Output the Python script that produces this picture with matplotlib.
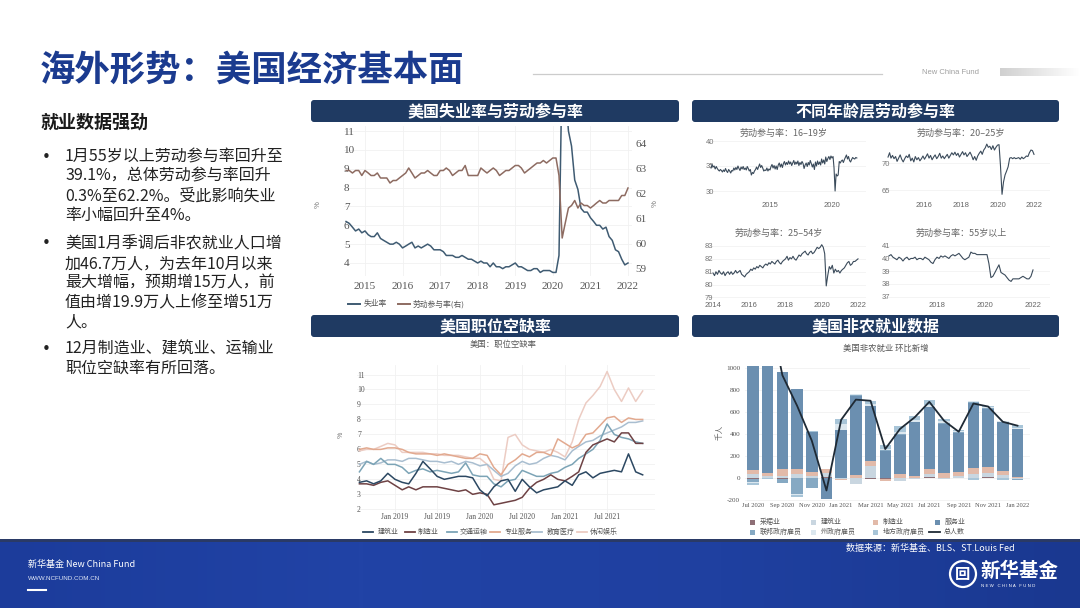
import numpy as np
import pandas as pd
import matplotlib
matplotlib.use('Agg')
import matplotlib.pyplot as plt
import matplotlib.dates as mdates
from matplotlib.patches import FancyBboxPatch, Rectangle, Circle
from matplotlib.colors import LinearSegmentedColormap

plt.rcParams['font.family'] = ['Noto Sans CJK SC', 'DejaVu Sans']
plt.rcParams['axes.unicode_minus'] = False

# ===================== DATA =====================
# Chart 1: unemployment rate (left) and labour-force participation (right), monthly from 2014-07
ur_start = '2014-07-01'
unemployment_rate = [6.2, 6.1, 5.9, 5.7, 5.8, 5.6,
    5.7, 5.5, 5.4, 5.4, 5.6, 5.3, 5.2, 5.1, 5.0, 5.0, 5.1, 5.0,
    4.8, 4.9, 5.0, 5.1, 4.8, 4.9, 4.8, 4.9, 5.0, 4.9, 4.7, 4.7,
    4.7, 4.6, 4.4, 4.4, 4.4, 4.3, 4.3, 4.4, 4.3, 4.2, 4.2, 4.1,
    4.0, 4.1, 4.0, 4.0, 3.8, 4.0, 3.8, 3.8, 3.7, 3.8, 3.8, 3.9,
    4.0, 3.8, 3.8, 3.7, 3.6, 3.6, 3.7, 3.7, 3.5, 3.6, 3.6, 3.6,
    3.5, 3.5, 4.4, 14.7, 13.2, 11.0, 10.2, 8.4, 7.9, 6.9, 6.7, 6.7,
    6.4, 6.2, 6.0, 6.0, 5.8, 5.9, 5.4, 5.2, 4.7, 4.6, 4.2, 3.9,
    4.0]
participation_rate = [62.9, 62.9, 62.8, 62.9, 62.9, 62.7,
    62.9, 62.8, 62.7, 62.7, 62.8, 62.6, 62.6, 62.6, 62.4, 62.5, 62.5, 62.6,
    62.7, 62.8, 63.0, 62.8, 62.6, 62.7, 62.8, 62.8, 62.9, 62.8, 62.7, 62.7,
    62.9, 62.9, 63.0, 62.9, 62.7, 62.8, 62.9, 62.9, 63.1, 62.7, 62.7, 62.7,
    62.7, 63.0, 62.9, 62.8, 62.9, 63.0, 62.9, 62.7, 62.8, 62.9, 62.9, 63.0,
    63.1, 63.1, 63.0, 62.8, 62.9, 63.0, 63.1, 63.2, 63.2, 63.3, 63.2, 63.3,
    63.4, 63.4, 62.7, 60.2, 60.8, 61.4, 61.5, 61.7, 61.4, 61.6, 61.5, 61.5,
    61.4, 61.5, 61.6, 61.7, 61.6, 61.6, 61.7, 61.7, 61.7, 61.7, 61.9, 61.9,
    62.2]
ur_labels = ['失业率', '劳动参与率(右)']

# Chart 2: participation by age group (monthly)
age_16_19_start = '2010-04-01'
age_16_19 = [34.6, 35.3, 34.8, 35.0, 34.4, 34.9, 34.5, 34.2, 34.0,
    34.3, 34.1, 33.8, 34.2, 33.9, 34.5, 34.0, 33.7, 34.3, 34.0, 33.6, 34.1,
    34.0, 34.6, 34.2, 34.7, 34.3, 35.0, 34.5, 34.1, 34.8, 34.4, 34.9, 34.3,
    34.6, 34.2, 34.9, 34.5, 34.0, 34.3, 33.2, 33.7, 33.5, 34.0, 34.3, 34.8,
    34.3, 34.9, 35.4, 34.7, 35.1, 34.6, 34.0, 34.2, 34.1, 34.6, 34.0, 34.4,
    34.2, 34.9, 35.3, 34.6, 35.1, 34.4, 35.0, 34.3, 35.2, 35.6, 34.8, 35.4,
    34.7, 35.5, 35.9, 35.2, 35.7, 35.3, 36.0, 35.4, 35.8, 35.1, 35.6, 36.1,
    35.3, 35.8, 35.4, 36.0, 35.1, 35.7, 35.3, 35.9, 35.5, 34.5, 35.2, 35.6,
    34.9, 35.7, 35.2, 36.1, 35.5, 34.8, 35.4, 34.3, 35.8, 35.0, 36.0, 35.3,
    35.8, 35.2, 36.4, 35.6, 36.2, 35.4, 36.8, 35.9, 36.5, 36.9, 36.3, 37.0,
    36.6, 36.9, 34.6, 30.0, 33.4, 33.0, 33.2, 35.9, 35.6, 36.0, 36.2, 35.7,
    36.3, 36.8, 37.2, 36.4, 36.9, 36.1, 35.8, 36.3, 36.7, 36.5, 36.4, 36.7,
    36.6]
age_20_24_start = '2014-01-01'
age_20_24 = [71.1, 71.9, 70.9, 71.4, 70.8, 71.2, 70.3, 70.9, 71.5, 70.7, 70.2, 70.8,
    71.3, 71.0, 71.6, 70.4, 70.9, 70.2, 71.2, 70.6, 71.0, 70.4, 70.8, 71.3,
    70.7, 71.2, 71.7, 70.9, 71.4, 70.6, 71.1, 71.5, 70.8, 71.2, 71.8, 70.9,
    71.3, 70.8, 71.2, 71.6, 70.9, 71.4, 71.9, 71.5, 72.0, 71.4, 71.8, 71.1,
    71.6, 72.1, 71.5, 71.9, 71.2, 71.6, 72.0, 71.4, 70.6, 71.2, 70.5, 71.3,
    71.8, 72.2, 71.6, 72.4, 72.8, 73.5, 72.9, 73.1, 72.5, 73.2, 72.4, 72.9,
    73.3, 73.4, 69.5, 64.2, 66.5, 67.8, 68.5, 69.3, 70.9, 71.0, 70.8, 71.0,
    70.8, 70.9, 71.0, 70.7, 71.1, 70.8, 71.0, 71.3, 71.2, 71.9, 72.4, 72.3,
    71.6]
age_25_54_start = '2014-01-01'
age_25_54 = [80.9, 80.7, 81.0, 80.8, 81.1, 80.9, 80.8, 81.0, 80.7, 80.9, 81.0, 80.8,
    81.0, 80.8, 80.9, 81.1, 80.9, 81.0, 81.1, 80.8, 80.7, 80.6, 80.8, 80.9,
    81.0, 81.2, 81.1, 81.3, 81.2, 81.4, 81.3, 81.5, 81.4, 81.3, 81.5, 81.6,
    81.5, 81.7, 81.6, 81.8, 81.7, 81.6, 81.8, 81.9, 81.7, 81.6, 81.8, 81.9,
    82.0, 82.2, 81.9, 82.1, 82.0, 82.2, 82.0, 81.9, 82.1, 82.3, 82.2, 82.4,
    82.5, 82.6, 82.4, 82.3, 82.5, 82.6, 82.4, 82.5, 82.7, 82.9, 82.8, 82.9,
    83.1, 82.9, 82.4, 79.9, 80.7, 81.4, 81.2, 81.5, 80.9, 81.2, 81.0, 81.1,
    80.9, 81.1, 81.2, 81.3, 81.5, 81.7, 81.8, 81.5, 81.6, 81.8, 81.8, 81.9,
    82.0]
age_55_start = '2016-01-01'
age_55_plus = [40.2, 40.3, 40.1, 40.0, 39.9, 40.1, 40.0, 39.8, 40.0, 40.1, 39.9, 40.0,
    40.0, 40.1, 39.9, 40.0, 40.0, 39.9, 40.1, 40.0, 39.9, 39.7, 39.6, 39.9,
    40.1, 40.0, 40.2, 40.1, 40.2, 40.1, 40.0, 40.2, 40.3, 40.2, 40.3, 40.4,
    40.2, 40.0, 39.9, 40.0, 40.1, 40.5, 40.4, 40.4, 40.3, 40.3, 40.3, 40.3,
    40.3, 40.3, 39.6, 38.5, 38.6, 38.9, 39.2, 39.5, 38.9, 38.8, 38.7, 38.5,
    38.3, 38.2, 38.4, 38.4, 38.4, 38.4, 38.5, 38.6, 38.5, 38.4, 38.4, 38.6,
    39.1]
age_titles = ['劳动参与率：16–19岁', '劳动参与率：20–25岁', '劳动参与率：25–54岁', '劳动参与率：55岁以上']

# Chart 3: job openings rate by industry, monthly from 2018-08
vac_start = '2018-08-01'
vac_construction = [3.8, 3.9, 3.7, 3.9, 4.4, 4.0, 3.8, 3.7, 4.4, 5.2, 4.7, 4.2, 4.0, 4.1, 4.2, 4.2,
    4.1, 3.3, 2.9, 3.5, 3.9, 4.0, 3.2, 4.0, 3.5, 3.1, 3.3, 3.4, 3.5, 3.9, 3.6, 4.3,
    4.5, 4.1, 4.4, 4.5, 4.6, 4.5, 5.7, 4.5, 4.3]
vac_manufacturing = [3.7, 3.7, 3.6, 3.8, 3.9, 3.6, 3.3, 3.5, 3.3, 3.5, 3.5, 3.5, 3.4, 3.3, 3.2, 3.3,
    3.0, 3.1, 3.0, 2.3, 2.4, 2.5, 2.6, 2.8, 3.4, 3.8, 4.0, 4.3, 4.0, 3.9, 4.2, 4.5,
    5.8, 6.3, 6.5, 6.7, 6.5, 7.1, 7.1, 6.4, 6.4]
vac_transport = [4.5, 5.2, 5.0, 5.4, 5.0, 5.0, 4.8, 4.4, 4.6, 4.7, 4.5, 4.6, 4.5, 4.4, 4.5, 5.1,
    4.3, 4.2, 4.2, 3.7, 3.5, 3.9, 4.0, 4.6, 4.4, 4.2, 4.2, 4.4, 4.5, 4.8, 5.0, 5.4,
    5.7, 6.0, 6.6, 7.7, 7.0, 6.8, 6.7, 6.5, 6.4]
vac_professional = [6.0, 6.1, 6.0, 6.0, 6.1, 6.1, 6.0, 5.8, 5.7, 5.7, 5.7, 5.6, 5.7, 5.6, 5.5, 5.4,
    5.4, 5.7, 5.6, 4.8, 4.3, 5.0, 5.3, 5.7, 5.5, 5.8, 5.8, 5.6, 6.7, 6.4, 6.1, 6.3,
    7.0, 7.1, 7.6, 8.1, 8.2, 7.8, 8.1, 8.0, 8.0]
vac_eduhealth = [5.0, 5.2, 5.0, 5.1, 5.3, 5.3, 5.2, 5.4, 5.4, 5.3, 5.2, 5.2, 5.1, 5.2, 5.0, 5.2,
    5.1, 4.9, 5.0, 4.6, 4.2, 4.4, 4.9, 5.2, 5.0, 5.1, 5.4, 5.6, 5.5, 5.3, 5.9, 6.2,
    6.5, 6.6, 6.9, 7.1, 7.3, 7.5, 7.8, 7.8, 7.9]
vac_leisure = [5.9, 6.0, 6.0, 6.2, 6.4, 6.3, 5.8, 5.8, 5.8, 5.8, 5.7, 5.7, 5.6, 5.6, 5.6, 5.5,
    5.4, 5.4, 5.0, 4.0, 3.9, 6.8, 7.0, 6.3, 6.0, 5.9, 5.8, 6.0, 5.8, 5.5, 6.5, 8.0,
    9.1, 9.6, 10.2, 11.2, 10.0, 9.2, 10.1, 9.2, 9.9]
vac_names = ['建筑业', '制造业', '交通运输', '专业服务', '教育医疗', '休闲娱乐']
vac_ticks = ['2019-01-01', '2019-07-01', '2020-01-01', '2020-07-01', '2021-01-01', '2021-07-01']
vac_ticklabels = ['Jan 2019', 'Jul 2019', 'Jan 2020', 'Jul 2020', 'Jan 2021', 'Jul 2021']

# Chart 4: nonfarm payroll change by sector (thousands)
nf_months = ['Jul 2020', 'Aug 2020', 'Sep 2020', 'Oct 2020', 'Nov 2020', 'Dec 2020', 'Jan 2021',
             'Feb 2021', 'Mar 2021', 'Apr 2021', 'May 2021', 'Jun 2021', 'Jul 2021', 'Aug 2021',
             'Sep 2021', 'Oct 2021', 'Nov 2021', 'Dec 2021', 'Jan 2022']
nf_mining = [-7, 0, -3, -1, 4, 10, 2, 3, -2, -2, 5, 2, 8, 3, 3, 2, 10, 2, 1]
nf_construction = [40, 20, 25, 40, 20, 40, -8, -55, 110, -5, -20, -5, 30, -3, 20, 40, 40, 30, -10]
nf_manufacturing = [35, 30, 60, 40, 35, 30, -10, 25, 50, -20, 30, 20, 50, 45, 35, 55, 55, 35, 15]
nf_services = [1250, 1100, 875, 725, 356, -190, 430, 715, 490, 250, 358, 483, 552, 445, 352, 587, 520, 438, 429]
nf_federal = [-30, 250, -35, -140, -85, 5, 5, 5, -5, 5, 5, 5, 5, 5, 5, 5, 5, 5, -5]
nf_state = [-5, 0, -5, -10, 5, 0, 50, 10, 20, 10, 20, 15, 20, 15, 8, 5, 10, 10, 10]
nf_local = [-20, -10, 0, -15, 5, 0, 50, 5, 30, 35, 50, 40, 40, 22, 12, -15, 15, -15, 25]
nf_total = [1726, 1583, 930, 655, 340, -110, 528, 710, 700, 264, 445, 550, 690, 520, 420, 675, 648, 510, 475]
nf_names = ['采掘业', '建筑业', '制造业', '服务业', '联邦政府雇员', '州政府雇员', '地方政府雇员', '总人数']

# Slide text
title_text = '海外形势：美国经济基本面'
side_heading = '就业数据强劲'
bullets = [
    ['1月55岁以上劳动参与率回升至', '39.1%，总体劳动参与率回升', '0.3%至62.2%。受此影响失业', '率小幅回升至4%。'],
    ['美国1月季调后非农就业人口增', '加46.7万人，为去年10月以来', '最大增幅，预期增15万人，前', '值由增19.9万人上修至增51万', '人。'],
    ['12月制造业、建筑业、运输业', '职位空缺率有所回落。'],
]
panel_titles = ['美国失业率与劳动参与率', '不同年龄层劳动参与率', '美国职位空缺率', '美国非农就业数据']

# ===================== STYLE =====================
W, H = 1080, 608
HDR = '#1f3a62'
TITLE_C = '#1b3b8f'
C_UR = '#3f5b72'
C_LF = '#8d6b61'
C_AGE = '#3b4b5b'
VAC_COLORS = ['#2c4862', '#6e4244', '#7ca4b6', '#e2a98f', '#a9bed0', '#ecccc3']
NF_COLORS = ['#8e6f76', '#c9d6e0', '#e2baa9', '#6b8fb0', '#86a9c3', '#dbe7ef', '#a8c5d8', '#1f2a35']
SERIF = 'Liberation Serif'
SANS = 'Liberation Sans'

fig = plt.figure(figsize=(W / 100, H / 100), dpi=100)
fig.patch.set_facecolor('white')


def px_axes(x0, y0, x1, y1):
    ax = fig.add_axes([x0 / W, 1 - y1 / H, (x1 - x0) / W, (y1 - y0) / H])
    ax.set_facecolor('none')
    for s in ax.spines.values():
        s.set_visible(False)
    return ax


def lim(a0, a1, v1, p1, v2, p2):
    s = (v2 - v1) / (p2 - p1)
    return (v1 + (a0 - p1) * s, v1 + (a1 - p1) * s)


def dn(s):
    return mdates.date2num(pd.Timestamp(s))


bg = fig.add_axes([0, 0, 1, 1])
bg.axis('off')

# ---------- slide decorations ----------
bg.text(40, 70, title_text, fontsize=25.5, fontweight='bold', color=TITLE_C, ha='left', va='center')
bg.plot([533, 882], [74, 74], color='#cccccc', lw=0.9)
bg.text(922, 72, 'New China Fund', fontsize=5.5, color='#a0a0a0', ha='left', va='center', family=SANS)
gcm = LinearSegmentedColormap.from_list('g', ['#d0d0d0', '#ffffff'])
bg.imshow(np.linspace(0, 1, 64)[None, :], cmap=gcm, extent=(1000, 1080, 76, 68), aspect='auto')

bg.text(40, 122, side_heading, fontsize=13, fontweight='bold', color='#1a1a1a', ha='left', va='center')
block_y = [[157, 176, 196, 215], [244, 264, 283, 303, 322], [349, 368]]
for lines, ys in zip(bullets, block_y):
    bg.text(42, ys[0], '•', fontsize=11, color='#222222', ha='left', va='center', family='DejaVu Sans')
    for t, y in zip(lines, ys):
        bg.text(65, y, t, fontsize=11.5, color='#222222', ha='left', va='center')

panel_boxes = [(311, 100, 679, 122), (692, 100, 1059, 122), (311, 315, 679, 337), (692, 315, 1059, 337)]
for (x0, y0, x1, y1), t in zip(panel_boxes, panel_titles):
    bg.add_patch(FancyBboxPatch((x0, y0), x1 - x0, y1 - y0,
                                boxstyle='round,pad=0,rounding_size=3', fc=HDR, ec='none'))
    bg.text((x0 + x1) / 2, (y0 + y1) / 2 + 0.5, t, color='white', fontsize=11.5,
            fontweight='bold', ha='center', va='center')

# footer band
fcm = LinearSegmentedColormap.from_list('f', ['#1c3c9b', '#2143a6', '#1f40a0', '#1a3890'])
bg.imshow(np.linspace(0, 1, 256)[None, :], cmap=fcm, extent=(0, W, 608, 541), aspect='auto')
bg.add_patch(Rectangle((0, 539), W, 2.5, color='#2a3a66', lw=0))
bg.text(28, 564, '新华基金 New China Fund', fontsize=6.5, color='white', ha='left', va='center')
bg.text(28, 578, 'WWW.NCFUND.COM.CN', fontsize=4.5, color='#dfe6f5', ha='left', va='center', family=SANS)
bg.plot([28, 46], [590, 590], color='white', lw=1.5)
bg.text(1015, 548, '数据来源：新华基金、BLS、ST.Louis Fed', fontsize=6.5, color='white',
        ha='right', va='center', style='italic')
bg.add_patch(Circle((963, 574), 13, fc='none', ec='white', lw=1.6))
bg.text(963, 574.5, '回', fontsize=11, color='white', ha='center', va='center', fontweight='bold')
bg.text(980, 571, '新华基金', fontsize=14, color='white', ha='left', va='center', fontweight='bold')
bg.text(981, 586, 'N E W   C H I N A   F U N D', fontsize=3.2, color='white', ha='left', va='center', family=SANS)
bg.set_xlim(0, W)
bg.set_ylim(H, 0)

# ---------- Chart 1 ----------
ax1 = px_axes(344, 126, 632, 276)
d1 = pd.date_range(ur_start, periods=len(unemployment_rate), freq='MS')
ax1.grid(True, color='#f1f1f1', lw=0.6)
l_ur, = ax1.plot(d1, unemployment_rate, color=C_UR, lw=1.1, zorder=3)
ax1r = ax1.twinx()
for s in ax1r.spines.values():
    s.set_visible(False)
l_lf, = ax1r.plot(d1, participation_rate, color=C_LF, lw=1.1, zorder=3)
ax1.set_ylim(*lim(276, 126, 11, 131, 4, 263))
ax1r.set_ylim(*lim(276, 126, 64, 143, 59, 268))
ax1.set_xlim(*lim(344, 632, dn('2015-01-01'), 365, dn('2022-01-01'), 628))
ax1.set_xticks([pd.Timestamp(f'{y}-01-01') for y in range(2015, 2023)])
ax1.set_xticklabels([str(y) for y in range(2015, 2023)], family=SERIF, fontsize=8, color='#555555')
ax1.set_yticks(range(4, 12))
ax1.set_yticklabels([str(v) for v in range(4, 12)], family=SERIF, fontsize=8, color='#555555')
ax1r.set_yticks(range(59, 65))
ax1r.set_yticklabels([str(v) for v in range(59, 65)], family=SERIF, fontsize=8, color='#555555')
ax1.tick_params(axis='x', length=0, pad=4)
ax1.tick_params(axis='y', length=0, pad=0)
ax1r.tick_params(axis='y', length=0, pad=2.5)
for t in ax1.get_yticklabels():
    t.set_ha('left')
bg.text(318, 205, '%', rotation=90, fontsize=5.5, color='#666666', ha='center', va='center')
bg.text(655, 204, '%', rotation=90, fontsize=5.5, color='#666666', ha='center', va='center')
for (lx, tx), lab, col in zip([(348, 364), (398, 413)], ur_labels, [C_UR, C_LF]):
    bg.plot([lx, lx + 12], [304, 304], color=col, lw=1.4)
    bg.text(tx, 304, lab, fontsize=5.6, color='#555555', ha='left', va='center')

# ---------- Chart 2: four small multiples ----------
age_specs = [
    (age_16_19, age_16_19_start, (706, 136, 866, 197), ('2015-01-01', 770, '2020-01-01', 832),
     (40, 141, 30, 191), [30, 35, 40], [2015, 2020], (784, 133), 3.6),
    (age_20_24, age_20_24_start, (882, 136, 1050, 197), ('2016-01-01', 924.5, '2022-01-01', 1034),
     (70, 163, 65, 190), [65, 70], [2016, 2018, 2020, 2022], (961, 133), 3.6),
    (age_25_54, age_25_54_start, (705, 240, 866, 300), ('2014-01-01', 713, '2022-01-01', 858),
     (83, 246, 79, 297.5), [79, 80, 81, 82, 83], [2014, 2016, 2018, 2020, 2022], (779, 233), 1.2),
    (age_55_plus, age_55_start, (882, 240, 1050, 300), ('2018-01-01', 937, '2022-01-01', 1033),
     (41, 245.7, 37, 296.7), [37, 38, 39, 40, 41], [2018, 2020, 2022], (961, 233), 1.2),
]
for (vals, start, box, xr, yr, yt, xt, tpos, xpad), ttl in zip(age_specs, age_titles):
    x0, y0, x1, y1 = box
    ax = px_axes(x0, y0, x1, y1)
    d = pd.date_range(start, periods=len(vals), freq='MS')
    ax.grid(True, axis='y', color='#f2f2f2', lw=0.6)
    ax.plot(d, vals, color=C_AGE, lw=0.8, zorder=3)
    ax.set_xlim(*lim(x0, x1, dn(xr[0]), xr[1], dn(xr[2]), xr[3]))
    ax.set_ylim(*lim(y1, y0, yr[0], yr[1], yr[2], yr[3]))
    ax.set_yticks(yt)
    ax.set_yticklabels([str(v) for v in yt], family=SANS, fontsize=5.5, color='#777777')
    ax.set_xticks([pd.Timestamp(f'{y}-01-01') for y in xt])
    ax.set_xticklabels([str(y) for y in xt], family=SANS, fontsize=5.5, color='#666666')
    ax.tick_params(axis='y', length=0, pad=0)
    ax.tick_params(axis='x', length=0, pad=xpad)
    for t in ax.get_yticklabels():
        t.set_ha('left')
    bg.text(tpos[0], tpos[1], ttl, fontsize=6.5, color='#666666', ha='center', va='center')

# ---------- Chart 3: job openings ----------
ax3 = px_axes(357, 365, 655, 512)
d3 = pd.date_range(vac_start, periods=len(vac_construction), freq='MS')
ax3.grid(True, color='#f1f1f1', lw=0.6)
vac_series = [vac_construction, vac_manufacturing, vac_transport, vac_professional, vac_eduhealth, vac_leisure]
for k in [5, 4, 3, 2, 1, 0]:
    ax3.plot(d3, vac_series[k], color=VAC_COLORS[k], lw=1.1, zorder=3 + (5 - k) * 0.1)
ax3.set_xlim(*lim(357, 655, dn('2019-01-01'), 395, dn('2021-01-01'), 565))
ax3.set_ylim(*lim(512, 365, 11, 374.5, 2, 509.3))
ax3.set_yticks(range(2, 12))
ax3.set_yticklabels([str(v) for v in range(2, 12)], family=SERIF, fontsize=5.5, color='#555555')
ax3.set_xticks([pd.Timestamp(s) for s in vac_ticks])
ax3.set_xticklabels(vac_ticklabels, family=SERIF, fontsize=5.5, color='#555555')
ax3.tick_params(axis='y', length=0, pad=0)
ax3.tick_params(axis='x', length=0, pad=0.5)
for t in ax3.get_yticklabels():
    t.set_ha('left')
bg.text(503, 344, '美国：职位空缺率', fontsize=6, color='#555555', ha='center', va='center')
bg.text(341, 435, '%', rotation=90, fontsize=5, color='#666666', ha='center', va='center')
for (lx, tx), lab, col in zip([(363, 378), (405, 418), (447, 460), (490, 505), (532, 547), (577, 590)],
                              vac_names, VAC_COLORS):
    bg.plot([lx, lx + 10], [532, 532], color=col, lw=1.3)
    bg.text(tx, 532, lab, fontsize=5, color='#555555', ha='left', va='center')

# ---------- Chart 4: nonfarm payrolls ----------
ax4 = px_axes(745, 366, 1030, 501)
xi = np.arange(len(nf_months))
ax4.grid(True, axis='y', color='#f1f1f1', lw=0.6)
ax4.set_axisbelow(True)
pos_base = np.zeros(len(xi))
neg_base = np.zeros(len(xi))
nf_parts = [nf_mining, nf_construction, nf_manufacturing, nf_services, nf_federal, nf_state, nf_local]
for vals, col in zip(nf_parts, NF_COLORS[:7]):
    v = np.array(vals, dtype=float)
    p = np.where(v > 0, v, 0)
    q = np.where(v < 0, v, 0)
    ax4.bar(xi, p, bottom=pos_base, width=0.78, color=col, lw=0, zorder=2)
    ax4.bar(xi, q, bottom=neg_base, width=0.78, color=col, lw=0, zorder=2)
    pos_base += p
    neg_base += q
ax4.plot(xi, nf_total, color=NF_COLORS[7], lw=1.3, zorder=4)
ax4.set_xlim(*lim(745, 1030, 0, 753, 18, 1017.5))
ax4.set_ylim(*lim(501, 366, 1000, 367.5, 0, 478.3))
ax4.set_yticks([-200, 0, 200, 400, 600, 800, 1000])
ax4.set_yticklabels(['-200', '0', '200', '400', '600', '800', '1000'], family=SERIF, fontsize=5.2, color='#555555')
ax4.set_xticks(xi[::2])
ax4.set_xticklabels(nf_months[::2], family=SERIF, fontsize=4.7, color='#555555')
ax4.tick_params(axis='y', length=0, pad=3.5)
ax4.tick_params(axis='x', length=0, pad=1.2)
bg.text(886, 348, '美国非农就业 环比新增', fontsize=6, color='#555555', ha='center', va='center')
bg.text(720, 432, '千人', rotation=90, fontsize=5.5, color='#666666', ha='center', va='center')
leg_pos = [(752, 522), (813, 522), (875, 522), (937, 522), (752, 532), (813, 532), (875, 532)]
for (sx, sy), lab, col in zip(leg_pos, nf_names[:7], NF_COLORS[:7]):
    bg.add_patch(Rectangle((sx - 2.5, sy - 2.5), 5, 5, color=col, lw=0))
    bg.text(sx + 8, sy, lab, fontsize=5, color='#555555', ha='left', va='center')
bg.plot([929, 940], [532, 532], color=NF_COLORS[7], lw=1.3)
bg.text(944, 532, nf_names[7], fontsize=5, color='#555555', ha='left', va='center')

fig.savefig('out.png', dpi=100, facecolor='white')
